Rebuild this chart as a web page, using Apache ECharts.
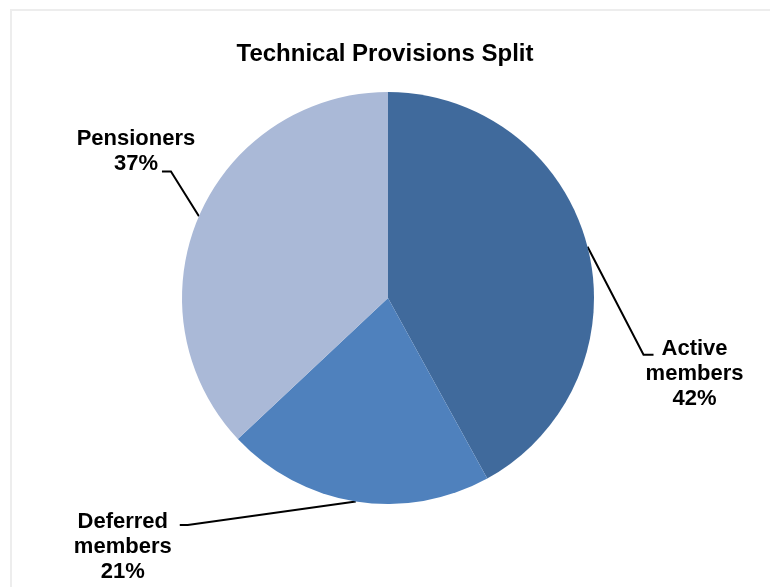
<!DOCTYPE html>
<html>
<head>
<meta charset="utf-8">
<script src="https://cdn.jsdelivr.net/npm/echarts@6/dist/echarts.min.js"></script>
<style>
  html, body { margin: 0; padding: 0; background: #ffffff; }
  #chart { width: 770px; height: 587px; }
</style>
</head>
<body>
<div id="chart"></div>
<script>
// Split of technical provisions by member group (percent)
const categories = ['Active members', 'Deferred members', 'Pensioners'];
const shares = [42, 21, 37];
const titleText = 'Technical Provisions Split';

// Styling / layout
const sliceColors = ['#406A9C', '#4F81BD', '#AAB9D7'];
const CENTER = [388, 298];
const RADIUS = 206;
const START_ANGLE = 90;
const FONT = '"Liberation Sans", Arial, Helvetica, sans-serif';

// Leader lines: offsets of the bend and end points from the slice's outer mid-point,
// and the label block (centre x, top y) relative to the line end.
const leaderStyle = {
  'Active members':   { bend: [56, 108],   end: [66, 108],   label: [41, -18.5] },
  'Deferred members': { bend: [-168, 23.5], end: [-176, 23.5], label: [-57, -15.5] },
  'Pensioners':       { bend: [-28, -44.6], end: [-37, -44.6], label: [-26, -45] }
};

const total = shares.reduce((a, b) => a + b, 0);

// outer mid-point of each slice, from the data and the pie geometry
function sliceEdge(i) {
  let cum = 0;
  for (let k = 0; k < i; k++) cum += shares[k];
  const frac = (cum + shares[i] / 2) / total;
  const ang = (START_ANGLE - frac * 360) * Math.PI / 180;
  return [CENTER[0] + RADIUS * Math.cos(ang), CENTER[1] - RADIUS * Math.sin(ang)];
}

const chart = echarts.init(document.getElementById('chart'), null, { renderer: 'canvas' });

chart.setOption({
  backgroundColor: '#ffffff',
  animation: false,
  graphic: [{
    type: 'rect',
    silent: true,
    shape: { x: 11, y: 10, width: 820, height: 640 },
    style: { fill: 'none', stroke: '#ededed', lineWidth: 2 }
  }],
  title: {
    text: titleText,
    left: 'center',
    top: 37,
    padding: [5, 0, 5, 7],
    textStyle: {
      fontFamily: FONT,
      fontSize: 24,
      fontWeight: 'bold',
      color: '#000000'
    }
  },
  series: [{
    type: 'pie',
    center: CENTER,
    radius: RADIUS,
    startAngle: START_ANGLE,
    clockwise: true,
    avoidLabelOverlap: false,
    silent: true,
    data: categories.map((name, i) => ({
      name: name,
      value: shares[i],
      itemStyle: { color: sliceColors[i] }
    })),
    itemStyle: { borderWidth: 0 },
    label: {
      show: true,
      position: 'outside',
      formatter: p => p.name.replace(' ', '\n') + '\n' + Math.round(p.percent) + '%',
      fontFamily: FONT,
      fontSize: 22,
      fontWeight: 'bold',
      lineHeight: 25,
      color: '#000000',
      align: 'center'
    },
    labelLine: {
      show: true,
      length: 30,
      length2: 10,
      smooth: false,
      lineStyle: { color: '#000000', width: 2 }
    },
    labelLayout: function (params) {
      const i = params.dataIndex;
      const cfg = leaderStyle[categories[i]];
      const edge = sliceEdge(i);
      const bend = [edge[0] + cfg.bend[0], edge[1] + cfg.bend[1]];
      const end = [edge[0] + cfg.end[0], edge[1] + cfg.end[1]];
      return {
        x: end[0] + cfg.label[0],
        y: end[1] + cfg.label[1],
        align: 'center',
        verticalAlign: 'top',
        labelLinePoints: [edge, bend, end]
      };
    }
  }]
});
</script>
</body>
</html>
